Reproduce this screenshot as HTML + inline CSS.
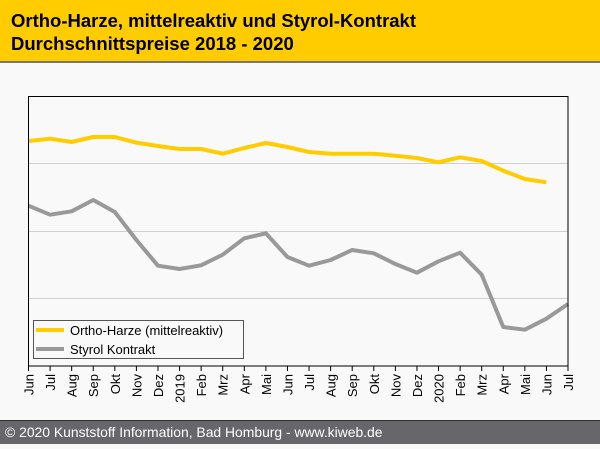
<!DOCTYPE html>
<html><head><meta charset="utf-8"><style>
body{margin:0;width:600px;height:444px;background:#f9f9f9;overflow:hidden;font-family:"Liberation Sans",sans-serif}
</style></head><body>
<svg width="600" height="444" xmlns="http://www.w3.org/2000/svg" font-family="Liberation Sans, sans-serif">
<rect width="600" height="444" fill="#f9f9f9"/>
<rect width="600" height="61" fill="#ffcc00"/>
<rect y="61" width="600" height="2" fill="#777"/>
<text x="11" y="27" font-size="18.5" font-weight="bold" fill="#000">Ortho-Harze, mittelreaktiv und Styrol-Kontrakt</text>
<text x="11" y="50" font-size="18.5" font-weight="bold" fill="#000">Durchschnittspreise 2018 - 2020</text>
<g stroke="#d0d0d0" stroke-width="1">
<line x1="29" x2="568" y1="163.5" y2="163.5"/>
<line x1="29" x2="568" y1="231.5" y2="231.5"/>
<line x1="29" x2="568" y1="298.5" y2="298.5"/>
</g>
<polyline id="yl" fill="none" stroke="#ffcc00" stroke-width="4" stroke-linejoin="round" points=""/>
<polyline id="gr" fill="none" stroke="#999" stroke-width="4" stroke-linejoin="round" points=""/>
<rect x="28.5" y="96.5" width="539.5" height="269.5" fill="none" stroke="#000" stroke-width="1"/>
<rect x="33.5" y="320.5" width="210" height="38" fill="#f9f9f9" stroke="#555" stroke-width="1"/>
<line x1="36" x2="64" y1="330" y2="330" stroke="#ffcc00" stroke-width="4"/>
<line x1="36" x2="64" y1="349" y2="349" stroke="#999" stroke-width="4"/>
<text x="70" y="335" font-size="13" fill="#000">Ortho-Harze (mittelreaktiv)</text>
<text x="70" y="354" font-size="13" fill="#000">Styrol Kontrakt</text>
<g id="ticks" stroke="#000" stroke-width="1"></g>
<g font-size="13" fill="#000" id="labels"></g>
<rect y="420" width="600" height="24" fill="#67676b"/>
<rect y="420" width="600" height="1" fill="#333"/>
<text x="5" y="437" font-size="13.9" fill="#fff">© 2020 Kunststoff Information, Bad Homburg - www.kiweb.de</text>
</svg>
<script>
var m=["Jun","Jul","Aug","Sep","Okt","Nov","Dez","2019","Feb","Mrz","Apr","Mai","Jun","Jul","Aug","Sep","Okt","Nov","Dez","2020","Feb","Mrz","Apr","Mai","Jun","Jul"];
var Y=[141,138.7,142,137,137,142.7,146,149,149,153.7,148,143,147,152,153.7,153.7,153.7,155.7,158,162.3,157.3,161,170.7,179,182.3];
var G=[205.7,214.7,211.3,200,212,240,265.7,269,265.3,254.7,238.3,233.3,257,265.7,260,250,253.3,264,272.7,261.3,252.7,274.7,327,329.7,318.7,304];
var sp=539.5/25;function X(i){return 28.5+i*sp;}
document.getElementById("yl").setAttribute("points",Y.map(function(v,i){return X(i)+","+v}).join(" "));
document.getElementById("gr").setAttribute("points",G.map(function(v,i){return X(i)+","+v}).join(" "));
var t=document.getElementById("ticks"),l=document.getElementById("labels"),ns="http://www.w3.org/2000/svg";
for(var i=0;i<26;i++){var x=X(i);var ln=document.createElementNS(ns,"line");ln.setAttribute("x1",x);ln.setAttribute("x2",x);ln.setAttribute("y1",366);ln.setAttribute("y2",371);t.appendChild(ln);
var tx=document.createElementNS(ns,"text");tx.setAttribute("transform","translate("+(x+5)+",374) rotate(-90)");tx.setAttribute("text-anchor","end");tx.textContent=m[i];l.appendChild(tx);}
</script>
</body></html>
